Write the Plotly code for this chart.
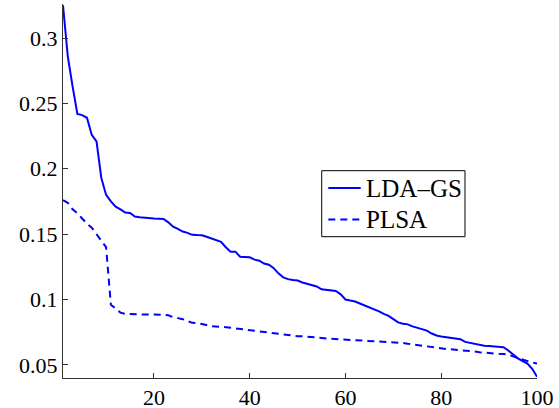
import plotly.graph_objects as go

rank = list(range(1, 101))

lda_gs = [
    0.325, 0.286, 0.263, 0.242, 0.241, 0.239, 0.226, 0.221, 0.193, 0.180,
    0.175, 0.171, 0.169, 0.1665, 0.1662, 0.1635, 0.163, 0.1625, 0.1622, 0.162,
    0.1618, 0.1616, 0.159, 0.1557, 0.154, 0.152, 0.151, 0.1495, 0.1493, 0.1492,
    0.148, 0.1468, 0.1455, 0.1442, 0.140, 0.1366, 0.1366, 0.1327, 0.1325, 0.1323,
    0.1305, 0.1297, 0.1275, 0.1266, 0.124, 0.120, 0.117, 0.1156, 0.115, 0.1145,
    0.113, 0.112, 0.111, 0.110, 0.1078, 0.1074, 0.1072, 0.1065, 0.104, 0.100,
    0.0992, 0.0985, 0.097, 0.0955, 0.094, 0.093, 0.091, 0.089, 0.0875, 0.085,
    0.0825, 0.0815, 0.081, 0.0795, 0.0785, 0.0775, 0.0762, 0.074, 0.0725, 0.0718,
    0.0712, 0.071, 0.070, 0.0697, 0.0676, 0.0668, 0.066, 0.0652, 0.0647, 0.0645,
    0.0642, 0.064, 0.0635, 0.061, 0.058, 0.055, 0.053, 0.051, 0.047, 0.041,
]

plsa = [
    0.176, 0.174, 0.169, 0.166, 0.162, 0.158, 0.155, 0.150, 0.145, 0.140,
    0.096, 0.093, 0.090, 0.089, 0.0888, 0.0886, 0.0886, 0.0886, 0.0886, 0.0886,
    0.0884, 0.0882, 0.088, 0.0865, 0.0858, 0.085, 0.0835, 0.0822, 0.082, 0.081,
    0.0805, 0.0797, 0.0795, 0.0792, 0.079, 0.0785, 0.078, 0.0775, 0.0772, 0.0770,
    0.0765, 0.076, 0.0755, 0.075, 0.0742, 0.0735, 0.073, 0.0725, 0.0722, 0.072,
    0.0719, 0.0717, 0.0713, 0.071, 0.0706, 0.0703, 0.070, 0.0698, 0.0696, 0.0694,
    0.0691, 0.0688, 0.0685, 0.0682, 0.068, 0.0678, 0.0677, 0.0676, 0.0675, 0.0673,
    0.0672, 0.0668, 0.0662, 0.0657, 0.0652, 0.0645, 0.064, 0.0634, 0.0628, 0.0625,
    0.0622, 0.062, 0.0617, 0.0614, 0.0613, 0.0608, 0.0602, 0.0597, 0.0593, 0.059,
    0.0587, 0.0585, 0.0583, 0.058, 0.0565, 0.0552, 0.054, 0.0528, 0.0518, 0.051,
]

series_names = ["LDA\u2013GS", "PLSA"]

x_ticks = [20, 40, 60, 80, 100]
y_ticks = [0.05, 0.1, 0.15, 0.2, 0.25, 0.3]
y_tick_text = ["0.05", "0.1", "0.15", "0.2", "0.25", "0.3"]

FONT = "Liberation Serif"
BLUE = "#0000FF"
DASH = "7px,5px"

fig = go.Figure()
fig.add_trace(go.Scatter(x=rank, y=lda_gs, mode="lines", name=series_names[0],
                         line=dict(color=BLUE, width=2)))
fig.add_trace(go.Scatter(x=rank, y=plsa, mode="lines", name=series_names[1],
                         line=dict(color=BLUE, width=2, dash=DASH)))

# legend box (drawn in paper coordinates, MATLAB-style)
box_x0, box_x1 = 0.5458, 0.8481
box_y0, box_y1 = 0.3778, 0.5543
row_y = [0.5080, 0.4235]
line_x0, line_x1 = 0.5597, 0.6281
text_x = 0.6340

fig.add_shape(type="rect", xref="paper", yref="paper",
              x0=box_x0, x1=box_x1, y0=box_y0, y1=box_y1,
              line=dict(color="black", width=1), fillcolor="white", layer="above")
for i, nm in enumerate(series_names):
    fig.add_shape(type="line", xref="paper", yref="paper",
                  x0=line_x0, x1=line_x1, y0=row_y[i], y1=row_y[i],
                  line=dict(color=BLUE, width=2, dash=(None if i == 0 else DASH)),
                  layer="above")
    fig.add_annotation(xref="paper", yref="paper", x=text_x, y=row_y[i],
                       xanchor="left", yanchor="middle", text=nm, showarrow=False,
                       font=dict(family=FONT, size=25, color="black"))

fig.update_layout(
    width=559, height=408,
    margin=dict(l=63, r=22, t=4, b=30, autoexpand=False),
    paper_bgcolor="white", plot_bgcolor="white",
    font=dict(family=FONT, size=22, color="black"),
    showlegend=False,
    xaxis=dict(range=[1, 100], tickvals=x_ticks, ticks="inside", ticklen=5,
               tickcolor="#333", showline=True, linecolor="#333", linewidth=1,
               showgrid=False, zeroline=False, mirror=False, automargin=False,
               tickfont=dict(family=FONT, size=22)),
    yaxis=dict(range=[0.04, 0.326], tickvals=y_ticks, ticktext=y_tick_text,
               ticks="inside", ticklen=5, tickcolor="#333", showline=True,
               linecolor="#333", linewidth=1, showgrid=False, zeroline=False,
               mirror=False, automargin=False, tickfont=dict(family=FONT, size=22)),
)

fig.write_html("out.html", config={"displayModeBar": False},
               post_script="document.body.style.margin='0';document.body.style.overflow='hidden';")
